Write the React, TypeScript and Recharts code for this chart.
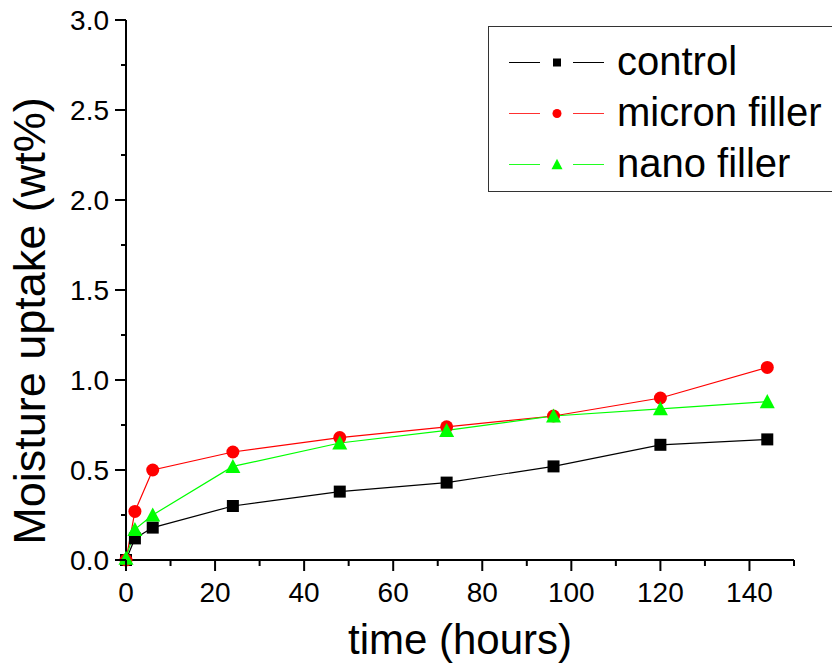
import { LineChart, Line, XAxis, YAxis, Legend } from "recharts";

const hours = [0, 2, 6, 24, 48, 72, 96, 120, 144];
const control = [0.0, 0.12, 0.18, 0.3, 0.38, 0.43, 0.52, 0.64, 0.67];
const micron = [0.0, 0.27, 0.5, 0.6, 0.68, 0.74, 0.8, 0.9, 1.07];
const nano = [0.01, 0.17, 0.25, 0.52, 0.65, 0.72, 0.8, 0.84, 0.88];

const seriesNames = ["control", "micron filler", "nano filler"];
const xTicks = [0, 10, 20, 30, 40, 50, 60, 70, 80, 90, 100, 110, 120, 130, 140, 150];
const yTicks = [0, 0.25, 0.5, 0.75, 1, 1.25, 1.5, 1.75, 2, 2.25, 2.5, 2.75, 3];

const data = hours.map((h, i) => ({ h, control: control[i], micron: micron[i], nano: nano[i] }));

const FONT = "'Liberation Sans', Arial, sans-serif";
const GREEN = "#00ff00";
const RED = "#ff0000";

function square(cx: number, cy: number, s: number, key?: string) {
  return <rect key={key} x={cx - s / 2} y={cy - s / 2} width={s} height={s} fill="#000" />;
}
function circle(cx: number, cy: number, r: number, key?: string) {
  return <circle key={key} cx={cx} cy={cy} r={r} fill={RED} />;
}
function triangle(cx: number, cy: number, w: number, key?: string) {
  const h = w * 0.87;
  return (
    <polygon
      key={key}
      points={`${cx},${cy - h / 2 - 1} ${cx - w / 2},${cy + h / 2} ${cx + w / 2},${cy + h / 2}`}
      fill={GREEN}
    />
  );
}

const XTick = (props: any) => {
  const { x, y, payload } = props;
  const v = payload.value;
  const major = v % 20 === 0;
  return (
    <g>
      <line x1={x} x2={x} y1={y} y2={y + (major ? 11 : 6)} stroke="#000" strokeWidth={2} />
      {major && v <= 140 && (
        <text x={x} y={y + 42} textAnchor="middle" fontSize={28} fontFamily={FONT} fill="#000">
          {v}
        </text>
      )}
    </g>
  );
};

const YTick = (props: any) => {
  const { x, y, payload } = props;
  const v = payload.value;
  const major = Math.round(v * 4) % 2 === 0;
  return (
    <g>
      <line x1={x - (major ? 11 : 5)} x2={x} y1={y} y2={y} stroke="#000" strokeWidth={2} />
      {major && (
        <text x={x - 17} y={y} dy="0.35em" textAnchor="end" fontSize={28} fontFamily={FONT} fill="#000">
          {v.toFixed(1)}
        </text>
      )}
    </g>
  );
};

const LegendBox = () => {
  const rows = [36, 87, 138];
  const colors = ["#000", "#ff3030", "#20ff20"];
  return (
    <div style={{ border: "1.5px solid #333", width: 360, height: 166, background: "#fff", boxSizing: "border-box" }}>
      <svg width={360} height={166} style={{ display: "block" }}>
        {seriesNames.map((name, i) => {
          const cy = rows[i] - 1;
          const marker =
            i === 0 ? square(68, cy + 0.5, 8) : i === 1 ? circle(68, cy + 0.5, 4.5) : triangle(68, cy + 0.5, 11);
          return (
            <g key={name}>
              <line x1={20} x2={51} y1={cy + 0.5} y2={cy + 0.5} stroke={colors[i]} strokeWidth={1} />
              {marker}
              <line x1={84} x2={115} y1={cy + 0.5} y2={cy + 0.5} stroke={colors[i]} strokeWidth={1} />
              <text x={128} y={cy + 13} fontSize={40} fontFamily={FONT} fill="#000">
                {name}
              </text>
            </g>
          );
        })}
      </svg>
    </div>
  );
};

export default function App() {
  return (
    <div style={{ position: "absolute", left: 0, top: 0, width: 832, height: 668, overflow: "hidden", background: "#fff", fontFamily: FONT }}>
      <LineChart width={832} height={668} data={data} margin={{ top: 20, right: 38, bottom: 0, left: 0 }}>
        <XAxis
          dataKey="h"
          type="number"
          domain={[0, 150]}
          ticks={xTicks}
          interval={0}
          height={108}
          tickSize={0}
          tickMargin={0}
          tickLine={false}
          axisLine={{ stroke: "#000", strokeWidth: 2 }}
          tick={<XTick />}
          label={{
            content: (p: any) => {
              const vb = p.viewBox;
              return (
                <text x={vb.x + vb.width / 2} y={vb.y + 94} textAnchor="middle" fontSize={42} fontFamily={FONT} fill="#000">
                  time (hours)
                </text>
              );
            },
          }}
        />
        <YAxis
          type="number"
          domain={[0, 3]}
          ticks={yTicks}
          interval={0}
          width={126}
          tickSize={0}
          tickMargin={0}
          tickLine={false}
          axisLine={{ stroke: "#000", strokeWidth: 2 }}
          tick={<YTick />}
          label={{
            content: () => (
              <text
                x={45}
                y={321}
                transform="rotate(-90 45 321)"
                textAnchor="middle"
                fontSize={45}
                fontFamily={FONT}
                fill="#000"
              >
                Moisture uptake (wt%)
              </text>
            ),
          }}
        />
        <Legend
          layout="vertical"
          align="center"
          verticalAlign="middle"
          wrapperStyle={{ left: 488, top: 26, width: 360 }}
          content={() => <LegendBox />}
        />
        <Line
          type="linear"
          dataKey="control"
          stroke="#000"
          strokeWidth={1.2}
          isAnimationActive={false}
          dot={(p: any) => square(p.cx, p.cy, 12, `c${p.index}`)}
        />
        <Line
          type="linear"
          dataKey="micron"
          stroke={RED}
          strokeWidth={1.2}
          isAnimationActive={false}
          dot={(p: any) => circle(p.cx, p.cy, 6.5, `m${p.index}`)}
        />
        <Line
          type="linear"
          dataKey="nano"
          stroke={GREEN}
          strokeWidth={1.2}
          isAnimationActive={false}
          dot={(p: any) => triangle(p.cx, p.cy, 15, `n${p.index}`)}
        />
      </LineChart>
    </div>
  );
}
